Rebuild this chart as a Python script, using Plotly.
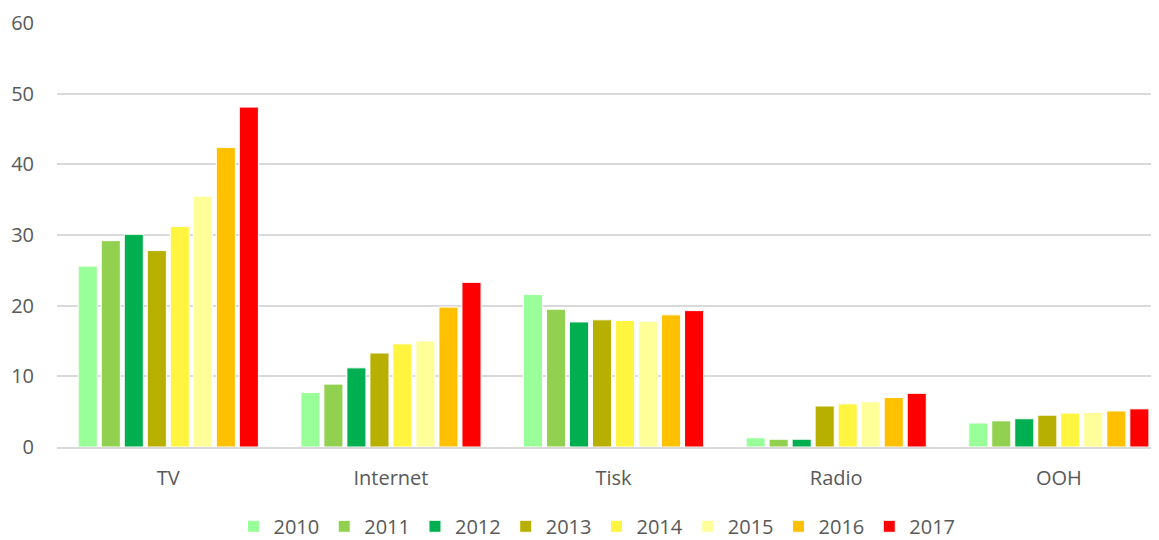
import plotly.graph_objects as go

categories = ["TV", "Internet", "Tisk", "Radio", "OOH"]
years = ["2010", "2011", "2012", "2013", "2014", "2015", "2016", "2017"]
values = {
    "2010": [25.6, 7.7, 21.6, 1.3, 3.4],
    "2011": [29.2, 8.9, 19.5, 1.1, 3.7],
    "2012": [30.1, 11.2, 17.7, 1.1, 4.0],
    "2013": [27.8, 13.3, 18.0, 5.8, 4.5],
    "2014": [31.2, 14.6, 17.9, 6.1, 4.8],
    "2015": [35.5, 15.0, 17.8, 6.4, 4.9],
    "2016": [42.4, 19.8, 18.7, 7.0, 5.1],
    "2017": [48.1, 23.3, 19.3, 7.6, 5.4],
}
colors = ["#99FF99", "#92D050", "#00B050", "#B8B000", "#FFF43F", "#FFFF99", "#FFC000", "#FF0000"]
tick_vals = [0, 10, 20, 30, 40, 50, 60]

fig = go.Figure()
for y, c in zip(years, colors):
    fig.add_trace(go.Bar(
        name=y, x=categories, y=values[y], marker_color=c,
        marker_line_color="white", marker_line_width=1,
    ))

font_family = "Open Sans, Liberation Sans, sans-serif"
fig.update_layout(
    barmode="group",
    bargap=0.173,
    bargroupgap=0.17,
    width=1151, height=532,
    margin=dict(l=49, r=0, t=15, b=93, autoexpand=False),
    plot_bgcolor="white", paper_bgcolor="white",
    font=dict(family=font_family, size=20, color="#595959"),
    yaxis=dict(range=[0, 60], tickvals=tick_vals, showgrid=True, gridcolor="#D9D9D9",
               gridwidth=1.5, zeroline=False, ticks="", ticklabelstandoff=22,
               tickfont=dict(size=20, color="#595959"), showline=False, automargin=False),
    xaxis=dict(showline=True, linecolor="#D9D9D9", linewidth=1.5, ticks="",
               range=[-0.5, 4.45],
               tickfont=dict(size=20, color="#595959"), ticklabelstandoff=12, automargin=False),
    legend=dict(orientation="h", x=0.49, xanchor="center", y=-0.187, yanchor="middle",
                font=dict(size=20, color="#595959"), itemwidth=30,
                traceorder="normal", tracegroupgap=0),
    showlegend=True,
)
fig.write_html("out.html")
